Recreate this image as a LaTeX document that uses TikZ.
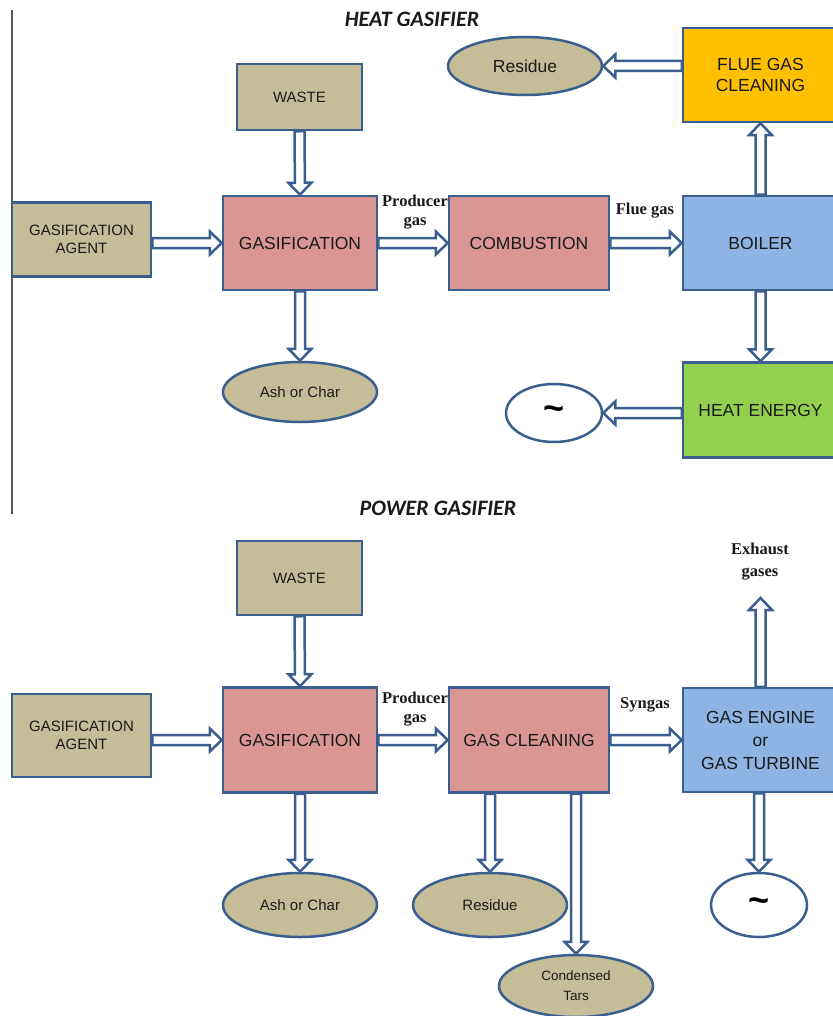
\documentclass[tikz,border=0pt]{standalone}
\usepackage{fontspec}
\setmainfont{Liberation Sans}
\newfontfamily\labfont{Liberation Serif}
\newfontfamily\ttlfont{Carlito}
\usetikzlibrary{calc,shapes.geometric}
\definecolor{tanfill}{HTML}{C4BD97}
\definecolor{rosefill}{HTML}{D99694}
\definecolor{skyfill}{HTML}{8EB4E3}
\definecolor{goldfill}{HTML}{FFC000}
\definecolor{limefill}{HTML}{92D050}
\definecolor{edgeblue}{HTML}{3A5F8F}
\definecolor{ink}{HTML}{1A1A1A}
\newcommand\flow[2]{%
  \draw[flowline] let \p1=($(#2)!12pt!(#1)$) in
    ($(#1)!5pt!90:(#2)$) -- ($(\p1)!5pt!90:(#2)$) -- ($(\p1)!11.5pt!90:(#2)$)
    -- (#2) -- ($(\p1)!11.5pt!-90:(#2)$) -- ($(\p1)!5pt!-90:(#2)$)
    -- ($(#1)!5pt!-90:(#2)$) -- cycle;}
\begin{document}
\begin{tikzpicture}[x=1pt,y=-1pt,
  box/.style={rectangle, draw=edgeblue, line width=2.5pt, inner sep=2pt, align=center,
    text=ink, font=\fontsize{17.5}{21}\selectfont},
  smallbox/.style={box, fill=tanfill, font=\fontsize{15}{18}\selectfont},
  ell/.style={ellipse, draw=edgeblue, line width=2.5pt, fill=tanfill, inner sep=0pt,
    align=center, text=ink, font=\fontsize{15}{18}\selectfont},
  gen/.style={ell, fill=white, text=black, font=\bfseries\fontsize{36}{36}\selectfont},
  lab/.style={align=center, text=ink, font=\labfont\bfseries\fontsize{16.5}{19}\selectfont},
  ttl/.style={text=ink, font=\ttlfont\bfseries\itshape\fontsize{22}{26}\selectfont},
  flowline/.style={draw=edgeblue, fill=white, line width=2.5pt, line join=miter}]
\useasboundingbox (0,0) rectangle (832,1016);
\fill[white] (0,0) rectangle (832,1016);
\draw[black!65, line width=1.5pt] (12,10) -- (12,514);

% ---------- HEAT GASIFIER ----------
\node[ttl] (t1) at (412,19) {HEAT GASIFIER};
\node[smallbox, minimum width=125pt, minimum height=66pt] (waste1) at (299.5,97) {WASTE};
\node[smallbox, minimum width=139pt, minimum height=74pt] (agent1) at (81.5,239.5) {GASIFICATION\\AGENT};
\node[box, fill=rosefill, minimum width=154pt, minimum height=94pt] (gas1) at (300,243) {GASIFICATION};
\node[box, fill=rosefill, minimum width=160pt, minimum height=94pt] (comb) at (529,243) {COMBUSTION};
\node[box, fill=skyfill, minimum width=155pt, minimum height=94pt] (boiler) at (760.5,243) {BOILER};
\node[box, fill=goldfill, minimum width=155pt, minimum height=94pt] (fgc) at (760.5,75) {FLUE GAS\\CLEANING};
\node[ell, minimum width=154pt, minimum height=58pt, font=\fontsize{17.5}{21}\selectfont] (res1) at (525,66) {Residue};
\node[ell, minimum width=154pt, minimum height=60pt] (ash1) at (300,392) {Ash or Char};
\node[box, fill=limefill, minimum width=155pt, minimum height=95pt] (heat) at (760.5,410) {HEAT ENERGY};
\node[gen, minimum width=96pt, minimum height=58pt] (ac1) at (554,413) {\textasciitilde};
\node[lab] (pg1) at (415,212) {Producer\\gas};
\node[lab] (fg) at (645,211) {Flue gas};

\coordinate (agent1out) at (agent1.east |- gas1.west);
\coordinate (fgcout) at (fgc.west |- res1.east);
\coordinate (heatout) at (heat.west |- ac1.east);
\flow{agent1out}{gas1.west}
\flow{waste1.south}{gas1.north}
\flow{gas1.east}{comb.west}
\flow{comb.east}{boiler.west}
\flow{boiler.north}{fgc.south}
\flow{fgcout}{res1.east}
\flow{gas1.south}{ash1.north}
\flow{boiler.south}{heat.north}
\flow{heatout}{ac1.east}

% ---------- POWER GASIFIER ----------
\node[ttl] (t2) at (438,508) {POWER GASIFIER};
\node[smallbox, minimum width=125pt, minimum height=74pt] (waste2) at (299.5,578) {WASTE};
\node[smallbox, minimum width=139pt, minimum height=83pt] (agent2) at (81.5,735.5) {GASIFICATION\\AGENT};
\node[box, fill=rosefill, minimum width=154pt, minimum height=105pt] (gas2) at (300,740) {GASIFICATION};
\node[box, fill=rosefill, minimum width=160pt, minimum height=105pt] (gcl) at (529,740) {GAS CLEANING};
\node[box, fill=skyfill, minimum width=155pt, minimum height=104pt, font=\fontsize{17.5}{23}\selectfont] (eng) at (760.5,740) {GAS ENGINE\\or\\GAS TURBINE};
\node[ell, minimum width=154pt, minimum height=64pt] (ash2) at (300,905) {Ash or Char};
\node[ell, minimum width=154pt, minimum height=64pt] (res2) at (490,905) {Residue};
\node[ell, minimum width=154pt, minimum height=62pt, font=\fontsize{13.5}{20}\selectfont] (tars) at (576,986) {Condensed\\Tars};
\node[gen, minimum width=96pt, minimum height=64pt] (ac2) at (759,905) {\textasciitilde};
\node[lab] (pg2) at (415,709) {Producer\\gas};
\node[lab] (sg) at (645,705) {Syngas};
\node[lab, font=\labfont\bfseries\fontsize{16.5}{22}\selectfont] (exg) at (760,562) {Exhaust\\gases};
\coordinate (exh) at (760.5,598);

\coordinate (agent2out) at (agent2.east |- gas2.west);
\coordinate (gclres) at (res2.north |- gcl.south);
\coordinate (gcltar) at (tars.north |- gcl.south);
\coordinate (engout) at (ac2.north |- eng.south);
\flow{agent2out}{gas2.west}
\flow{waste2.south}{gas2.north}
\flow{gas2.east}{gcl.west}
\flow{gcl.east}{eng.west}
\flow{eng.north}{exh}
\flow{gas2.south}{ash2.north}
\flow{gclres}{res2.north}
\flow{gcltar}{tars.north}
\flow{engout}{ac2.north}
\end{tikzpicture}
\end{document}
